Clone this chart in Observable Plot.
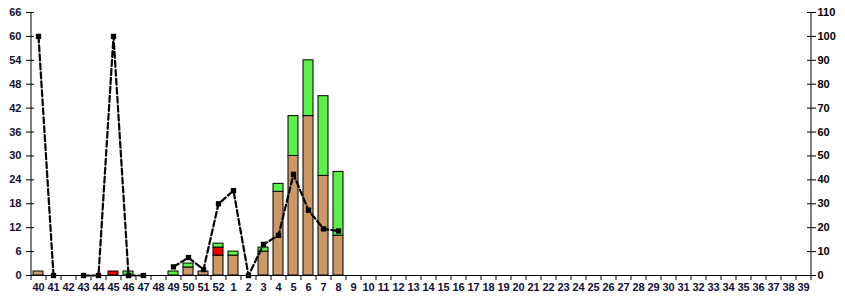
<!DOCTYPE html>
<html>
<head>
<meta charset="utf-8">
<script src="https://cdn.jsdelivr.net/npm/d3@7"></script>
<script src="https://cdn.jsdelivr.net/npm/@observablehq/plot@0.6"></script>
<style>
  html, body { margin: 0; padding: 0; background: #fff; }
</style>
</head>
<body>
<div id="chart"></div>
<script>
// Week labels (season week 40 .. week 39)
const weeks = ["40","41","42","43","44","45","46","47","48","49","50","51","52",
  "1","2","3","4","5","6","7","8","9","10","11","12","13","14","15","16","17","18","19","20",
  "21","22","23","24","25","26","27","28","29","30","31","32","33","34","35","36","37","38","39"];

// Stacked bar series (left axis)
const seriesA = [1,0,0,0,0,0,0,0,0,0,2,1,5, 5,0,6,21,30,40,25,10,0,0,0,0,0,0,0,0,0,0,0,0,0,0,0,0,0,0,0,0,0,0,0,0,0,0,0,0,0,0,0];
const seriesB = [0,0,0,0,0,1,0,0,0,0,0,0,2, 0,0,0,0,0,0,0,0,0,0,0,0,0,0,0,0,0,0,0,0,0,0,0,0,0,0,0,0,0,0,0,0,0,0,0,0,0,0,0];
const seriesC = [0,0,0,0,0,0,1,0,0,1,1,0,1, 1,0,1,2,10,14,20,16,0,0,0,0,0,0,0,0,0,0,0,0,0,0,0,0,0,0,0,0,0,0,0,0,0,0,0,0,0,0,0];

// Line series (right axis, 0-110)
const percent = [100,0,null,0,0,100,0,0,null,3.6,7.5,2.5,30, 35.5,0,13,16.8,42.3,27.3,19.5,18.6,
  null,null,null,null,null,null,null,null,null,null,null,null,null,null,null,null,null,null,null,null,null,null,null,null,null,null,null,null,null,null,null];

// Axis ticks
const leftTicks = [0,6,12,18,24,30,36,42,48,54,60,66];
const rightMax = 110, leftMax = 66;
const ratio = leftMax / rightMax;

const seriesNames = ["A","B","C"];
const seriesColors = ["#cc9966","#ee0000","#5cf04a"];
const bars = [];
weeks.forEach((w, i) => {
  [seriesA, seriesB, seriesC].forEach((arr, k) => {
    if (arr[i] > 0) bars.push({week: w, series: seriesNames[k], value: arr[i]});
  });
});
const line = weeks.map((w, i) => ({week: w, value: percent[i]}));

const chart = Plot.plot({
  width: 845,
  height: 300,
  marginLeft: 30,
  marginRight: 35,
  marginTop: 12,
  marginBottom: 25,
  style: {fontFamily: "'Liberation Sans', Arial, sans-serif", fontSize: "11px", fontWeight: "bold", background: "#fff"},
  x: {type: "band", domain: weeks, paddingInner: 0.34, paddingOuter: 0.17, label: null},
  y: {domain: [0, leftMax], label: null},
  color: {type: "ordinal", domain: seriesNames, range: seriesColors},
  marks: [
    Plot.barY(bars, {x: "week", y: "value", fill: "series", z: "series", order: seriesNames, stroke: "black", strokeWidth: 1}),
    Plot.line(line, {x: "week", y: d => d.value == null ? NaN : d.value * ratio, stroke: "black", strokeWidth: 2.2, strokeDasharray: "6,3"}),
    Plot.dot(line.filter(d => d.value != null), {x: "week", y: d => d.value * ratio, r: 3, fill: "black", symbol: "square"}),
    // axis lines
    Plot.ruleY([0], {stroke: "black"}),
    Plot.ruleX([weeks[0]], {dx: -7.5, stroke: "black", y1: 0, y2: leftMax}),
    Plot.ruleX([weeks[weeks.length - 1]], {dx: 7.5, stroke: "black", y1: 0, y2: rightMax * ratio}),
    // x boundary ticks
    Plot.axisX({ticks: weeks, tickSize: 5, dx: -7.5, tickFormat: () => "", stroke: "black"}),
    Plot.axisX({ticks: [weeks[weeks.length - 1]], tickSize: 5, dx: 7.5, tickFormat: () => "", stroke: "black"}),
    // x labels
    Plot.axisX({ticks: weeks, tickSize: 0, tickPadding: 8, fill: "#111133", label: null}),
    // left axis
    Plot.axisY({anchor: "left", ticks: leftTicks, tickSize: 8, dx: 4, tickFormat: () => "", stroke: "black", label: null}),
    Plot.axisY({anchor: "left", ticks: leftTicks, tickSize: 0, tickPadding: 9, fill: "#111133", label: null}),
    // right axis
    Plot.axisY({anchor: "right", ticks: leftTicks, tickSize: 9, dx: -4, tickFormat: () => "", stroke: "black", label: null}),
    Plot.axisY({anchor: "right", ticks: leftTicks, tickSize: 0, tickPadding: 7, tickFormat: d => String(Math.round(d / ratio)), fill: "black", label: null})
  ]
});
document.getElementById("chart").appendChild(chart);
</script>
</body>
</html>
